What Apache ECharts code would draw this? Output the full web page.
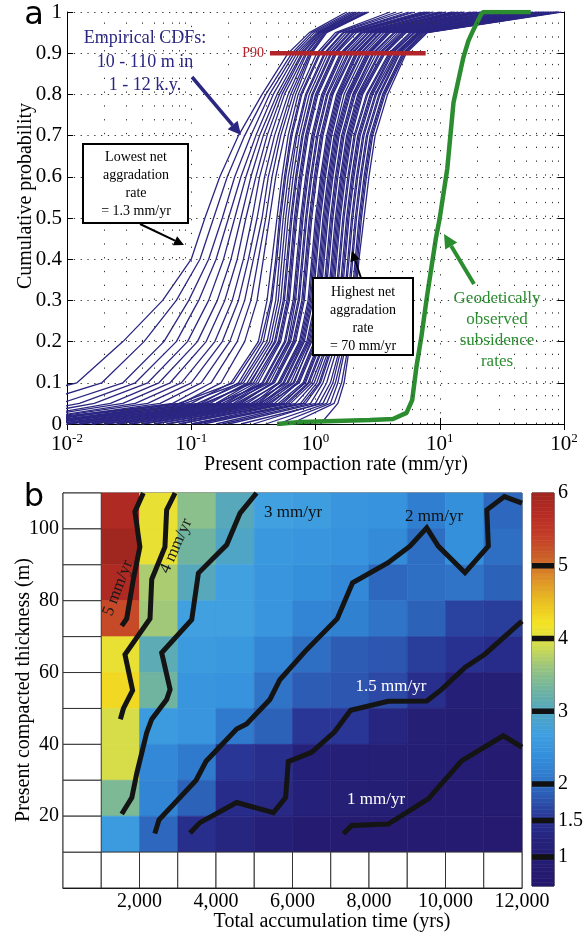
<!DOCTYPE html>
<html>
<head>
<meta charset="utf-8">
<script src="https://cdn.jsdelivr.net/npm/echarts@6/dist/echarts.min.js"></script>
<style>
html,body{margin:0;padding:0;background:#fff}
#chart{width:586px;height:933px}
</style>
</head>
<body>
<div id="chart"></div>
<script>
// ---------- panel a : empirical CDFs ----------
// probability levels at which each CDF was read
var probLevels = [0, 0.05, 0.1, 0.2, 0.3, 0.4, 0.5, 0.6, 0.7, 0.8, 0.9, 0.95, 1];
// log10(compaction rate, mm/yr) of each CDF at those levels, shallow ones first
var cdfLog = [
  [-3.2, -2.60, -1.92, -1.55, -1.23, -1.00, -0.89, -0.77, -0.62, -0.43, -0.22, -0.05, 0.25],
  [-3.0, -2.25, -1.72, -1.38, -1.12, -0.93, -0.82, -0.71, -0.57, -0.40, -0.19, -0.03, 0.28],
  [-2.9, -2.05, -1.55, -1.22, -1.02, -0.86, -0.75, -0.65, -0.52, -0.37, -0.17, -0.01, 0.30],
  [-2.8, -1.90, -1.45, -1.12, -0.94, -0.80, -0.70, -0.60, -0.48, -0.34, -0.15, 0.01, 0.32],
  [-2.7, -1.78, -1.35, -1.03, -0.86, -0.74, -0.65, -0.56, -0.45, -0.31, -0.13, 0.02, 0.33],
  [-2.6, -1.65, -1.26, -0.95, -0.79, -0.68, -0.60, -0.52, -0.42, -0.29, -0.11, 0.03, 0.35],
  [-2.6, -1.55, -1.17, -0.88, -0.73, -0.63, -0.56, -0.48, -0.39, -0.27, -0.10, 0.04, 0.36],
  [-2.5, -1.45, -1.08, -0.81, -0.67, -0.58, -0.51, -0.45, -0.36, -0.25, -0.08, 0.05, 0.38],
  [-2.5, -1.35, -1.00, -0.75, -0.62, -0.54, -0.47, -0.41, -0.33, -0.22, -0.07, 0.06, 0.40],
  [-2.4, -1.25, -0.92, -0.69, -0.57, -0.50, -0.43, -0.38, -0.30, -0.20, -0.05, 0.07, 0.41],
  [-2.4, -1.15, -0.84, -0.63, -0.52, -0.46, -0.40, -0.35, -0.28, -0.18, -0.04, 0.08, 0.42],
  [-2.3, -1.08, -0.76, -0.57, -0.47, -0.42, -0.37, -0.32, -0.25, -0.16, -0.03, 0.09, 0.43],
  [-2.3, -1.00, -0.68, -0.46, -0.39, -0.35, -0.31, -0.27, -0.22, -0.14, 0.01, 0.16, 0.60],
  [-2.6, -1.10, -0.66, -0.44, -0.36, -0.32, -0.29, -0.25, -0.20, -0.12, 0.03, 0.18, 0.65],
  [-2.2, -0.92, -0.62, -0.42, -0.35, -0.31, -0.28, -0.24, -0.19, -0.11, 0.04, 0.19, 0.70],
  [-2.5, -1.05, -0.60, -0.39, -0.32, -0.29, -0.26, -0.22, -0.16, -0.08, 0.07, 0.22, 0.75],
  [-2.2, -0.95, -0.58, -0.37, -0.30, -0.27, -0.24, -0.20, -0.15, -0.07, 0.08, 0.23, 0.78],
  [-2.1, -0.85, -0.55, -0.35, -0.28, -0.25, -0.22, -0.18, -0.13, -0.05, 0.10, 0.25, 0.80],
  [-2.3, -0.88, -0.53, -0.32, -0.25, -0.22, -0.19, -0.15, -0.10, -0.02, 0.13, 0.28, 0.88],
  [-2.0, -0.80, -0.52, -0.33, -0.26, -0.23, -0.20, -0.16, -0.11, -0.03, 0.12, 0.27, 0.85],
  [-2.0, -0.78, -0.48, -0.29, -0.22, -0.19, -0.16, -0.12, -0.07, 0.01, 0.16, 0.31, 0.92],
  [-2.4, -0.90, -0.50, -0.30, -0.23, -0.20, -0.17, -0.13, -0.08, 0.00, 0.15, 0.30, 0.90],
  [-1.9, -0.72, -0.46, -0.28, -0.21, -0.18, -0.15, -0.11, -0.06, 0.02, 0.17, 0.33, 0.95],
  [-2.0, -0.75, -0.43, -0.25, -0.18, -0.15, -0.12, -0.08, -0.03, 0.05, 0.20, 0.36, 1.00],
  [-2.1, -0.70, -0.42, -0.24, -0.17, -0.14, -0.11, -0.07, -0.02, 0.06, 0.21, 0.37, 1.02],
  [-1.8, -0.66, -0.40, -0.22, -0.16, -0.13, -0.10, -0.06, -0.01, 0.07, 0.22, 0.38, 1.05],
  [-2.2, -0.80, -0.39, -0.21, -0.14, -0.11, -0.08, -0.04, 0.01, 0.09, 0.24, 0.40, 1.10],
  [-1.9, -0.70, -0.37, -0.20, -0.13, -0.10, -0.07, -0.03, 0.02, 0.10, 0.26, 0.42, 1.12],
  [-1.7, -0.60, -0.35, -0.18, -0.11, -0.08, -0.05, -0.01, 0.04, 0.12, 0.27, 0.43, 1.15],
  [-1.8, -0.64, -0.34, -0.17, -0.10, -0.07, -0.04, 0.00, 0.05, 0.13, 0.29, 0.45, 1.18],
  [-1.9, -0.62, -0.33, -0.16, -0.09, -0.06, -0.03, 0.01, 0.06, 0.14, 0.30, 0.46, 1.20],
  [-1.6, -0.55, -0.30, -0.13, -0.06, -0.03, 0.00, 0.04, 0.09, 0.17, 0.32, 0.48, 1.25],
  [-1.6, -0.50, -0.29, -0.12, -0.05, -0.02, 0.01, 0.05, 0.10, 0.18, 0.33, 0.49, 1.28],
  [-1.8, -0.58, -0.28, -0.11, -0.04, -0.01, 0.02, 0.06, 0.11, 0.19, 0.34, 0.50, 1.30],
  [-1.7, -0.46, -0.26, -0.10, -0.03, 0.00, 0.03, 0.07, 0.12, 0.20, 0.36, 0.52, 1.33],
  [-1.5, -0.48, -0.25, -0.09, -0.02, 0.01, 0.04, 0.08, 0.13, 0.21, 0.37, 0.53, 1.35],
  [-1.7, -0.52, -0.23, -0.07, 0.00, 0.03, 0.06, 0.10, 0.15, 0.23, 0.39, 0.55, 1.40],
  [-1.5, -0.44, -0.22, -0.06, 0.01, 0.04, 0.07, 0.11, 0.16, 0.25, 0.41, 0.57, 1.42],
  [-1.4, -0.42, -0.20, -0.05, 0.02, 0.05, 0.08, 0.12, 0.17, 0.26, 0.42, 0.58, 1.45],
  [-1.4, -0.40, -0.17, -0.04, 0.03, 0.06, 0.09, 0.13, 0.18, 0.27, 0.43, 0.59, 1.48],
  [-1.6, -0.45, -0.18, -0.03, 0.04, 0.07, 0.10, 0.14, 0.19, 0.28, 0.44, 0.60, 1.50],
  [-1.3, -0.36, -0.15, -0.01, 0.06, 0.09, 0.12, 0.16, 0.21, 0.30, 0.46, 0.63, 1.55],
  [-1.4, -0.33, -0.14, 0.00, 0.07, 0.10, 0.13, 0.17, 0.22, 0.31, 0.47, 0.64, 1.58],
  [-1.5, -0.38, -0.13, 0.01, 0.08, 0.11, 0.14, 0.18, 0.23, 0.32, 0.49, 0.66, 1.60],
  [-1.2, -0.30, -0.10, 0.03, 0.10, 0.13, 0.16, 0.20, 0.25, 0.34, 0.51, 0.68, 1.65],
  [-1.1, -0.26, -0.09, 0.04, 0.11, 0.14, 0.17, 0.21, 0.26, 0.35, 0.52, 0.70, 1.68],
  [-1.3, -0.28, -0.08, 0.05, 0.12, 0.15, 0.18, 0.22, 0.27, 0.36, 0.54, 0.71, 1.70],
  [-1.1, -0.24, -0.06, 0.07, 0.13, 0.16, 0.19, 0.23, 0.28, 0.37, 0.55, 0.72, 1.71],
  [-1.0, -0.22, -0.05, 0.08, 0.14, 0.17, 0.20, 0.24, 0.29, 0.38, 0.56, 0.73, 1.72],
  [-1.2, -0.20, -0.03, 0.10, 0.16, 0.19, 0.22, 0.26, 0.31, 0.41, 0.59, 0.76, 1.75],
  [-0.95, -0.16, -0.01, 0.11, 0.17, 0.20, 0.23, 0.27, 0.32, 0.42, 0.60, 0.77, 1.78],
  [-0.9, -0.12, 0.01, 0.13, 0.19, 0.22, 0.25, 0.29, 0.34, 0.44, 0.61, 0.79, 1.80],
  [-0.8, -0.10, 0.03, 0.14, 0.20, 0.23, 0.26, 0.30, 0.35, 0.45, 0.62, 0.80, 1.82],
  [-1.0, -0.08, 0.04, 0.15, 0.21, 0.24, 0.27, 0.31, 0.36, 0.46, 0.64, 0.82, 1.84],
  [-0.75, -0.04, 0.06, 0.17, 0.23, 0.26, 0.29, 0.33, 0.38, 0.48, 0.65, 0.83, 1.86],
  [-0.7, 0.00, 0.09, 0.19, 0.24, 0.27, 0.30, 0.34, 0.39, 0.49, 0.66, 0.84, 1.88],
  [-0.5, 0.03, 0.12, 0.21, 0.26, 0.29, 0.32, 0.36, 0.41, 0.51, 0.67, 0.85, 1.90],
  [-0.6, 0.06, 0.14, 0.22, 0.27, 0.30, 0.33, 0.37, 0.42, 0.52, 0.68, 0.86, 1.92],
  [-0.4, 0.09, 0.16, 0.24, 0.29, 0.32, 0.35, 0.39, 0.44, 0.54, 0.70, 0.87, 1.94],
  [-0.3, 0.12, 0.18, 0.25, 0.30, 0.33, 0.36, 0.40, 0.45, 0.55, 0.71, 0.88, 1.95],
  [-0.2, 0.15, 0.21, 0.27, 0.31, 0.34, 0.37, 0.41, 0.46, 0.56, 0.72, 0.89, 1.96],
  [0.04, 0.18, 0.23, 0.28, 0.32, 0.35, 0.39, 0.43, 0.48, 0.58, 0.73, 0.90, 1.98]
];
// geodetic subsidence CDF
var geoRate = [0.49, 0.76, 2.75, 4.2, 5.4, 6.0, 6.5, 7.1, 7.9, 9.3, 10, 11.5, 12.9, 15.5, 17, 18.6, 21.4, 22.4, 54];
var geoProb = [0.0, 0.005, 0.01, 0.012, 0.027, 0.058, 0.14, 0.21, 0.31, 0.45, 0.5, 0.62, 0.78, 0.89, 0.93, 0.956, 0.993, 1.0, 1.0];
// P90 bar
var p90Rate = [0.43, 7.7];
var p90Prob = 0.9;

// ---------- panel b : P90 compaction rate grid ----------
var timeCenters = [1500, 2500, 3500, 4500, 5500, 6500, 7500, 8500, 9500, 10500, 11500];
var thickCenters = [105, 95, 85, 75, 65, 55, 45, 35, 25, 15];
var p90Grid = [
  [5.8, 4.1, 3.5, 3.05, 2.7, 2.65, 2.5, 2.45, 2.15, 2.4, 1.95],
  [6.0, 4.1, 3.3, 2.95, 2.55, 2.5, 2.45, 2.35, 2.0, 2.4, 2.0],
  [5.8, 3.7, 3.05, 2.7, 2.5, 2.4, 2.3, 1.95, 2.0, 2.05, 1.9],
  [5.3, 3.65, 2.7, 2.7, 2.5, 2.25, 2.2, 2.05, 1.9, 1.65, 1.6],
  [4.1, 3.1, 2.6, 2.55, 2.25, 2.0, 1.85, 1.8, 1.6, 1.5, 1.4],
  [4.3, 3.3, 2.5, 2.45, 2.05, 1.85, 1.8, 1.7, 1.45, 1.1, 1.05],
  [3.95, 2.6, 2.5, 2.1, 1.9, 1.55, 1.55, 1.3, 1.05, 1.0, 0.95],
  [3.95, 2.3, 2.1, 1.55, 1.45, 1.2, 1.1, 1.05, 1.0, 0.95, 0.85],
  [3.4, 2.25, 1.9, 1.4, 1.35, 1.15, 1.05, 1.0, 0.9, 0.9, 0.8],
  [2.6, 1.95, 1.45, 1.3, 1.1, 0.9, 0.9, 0.9, 0.85, 0.8, 0.75]
];
// contour lines [time, thickness]
var contour5 = [[2100,110],[1880,104.8],[2010,95],[1840,86],[1665,75],[1535,73]];
var contour4 = [[2930,110],[2710,105.3],[2665,95],[2320,86],[2275,75],[1620,65],[1820,55],[1580,50],[1500,47]];
var contour3 = [[5060,110],[4630,104.4],[4280,95.6],[3540,87.7],[3365,74.7],[2580,65.5],[2800,55.3],[2710,52.5],[2320,47],[2190,43.3],[1930,32],[1800,25.2],[1535,20.6]];
var contour2 = [[12000,107.2],[11540,109],[11080,105.3],[11120,95.2],[10510,87.8],[9810,95.2],[9510,100.3],[9070,95.2],[8500,90.6],[7570,85],[7170,75],[6330,65.9],[5670,58],[5410,52.5],[4800,45.7],[4540,44.3],[3740,35.3],[3480,30],[2510,19],[2400,15.2]];
var contour15 = [[12000,74.3],[11030,65.1],[10510,61.4],[9900,55.3],[9510,52.1],[8500,52],[7520,49.5],[7100,43.5],[6500,37.8],[5890,35.2],[5820,25.2],[5500,21],[4540,23.8],[3580,18.2],[3320,15.3]];
var contour1 = [[12000,39.2],[11510,42.4],[10420,35.4],[9550,24.8],[8500,17.8],[7550,17.4],[7330,15.1]];
var contourLevels = [1, 1.5, 2, 3, 4, 5];
var colorbarTicks = [1, 1.5, 2, 3, 4, 5, 6];

var SERIF = '"Liberation Serif", "DejaVu Serif", serif';
var NAVY = '#2b2682';
var GREEN = '#2c8c30';

var chart = echarts.init(document.getElementById('chart'));

// 画一个带箭头的线段
function arrow(x1, y1, x2, y2, color, width, head) {
  var a = Math.atan2(y2 - y1, x2 - x1);
  var bx = x2 - head * Math.cos(a), by = y2 - head * Math.sin(a);
  var hw = head * 0.5;
  return [
    {type: 'line', z: 100, shape: {x1: x1, y1: y1, x2: bx, y2: by}, style: {stroke: color, lineWidth: width}},
    {type: 'polygon', z: 100, shape: {points: [[x2, y2], [bx + hw * Math.sin(a), by - hw * Math.cos(a)], [bx - hw * Math.sin(a), by + hw * Math.cos(a)]]}, style: {fill: color}}
  ];
}
function label(x, y, text, size, color, opts) {
  opts = opts || {};
  return {
    type: 'text', z: 101, x: x, y: y, rotation: opts.rotation || 0,
    style: {
      text: text, font: (opts.font || (size + 'px ' + SERIF)), fill: color,
      align: opts.align || 'center', verticalAlign: 'middle',
      textAlign: opts.align || 'center', textVerticalAlign: 'middle',
      lineHeight: opts.lineHeight || size
    }
  };
}

// cell drawing for the grid (value axes)
function cellRender(w, h, white) {
  return function (params, api) {
    var x = api.value(0), y = api.value(1);
    var p0 = api.coord([x - w / 2, y + h / 2]);
    var p1 = api.coord([x + w / 2, y - h / 2]);
    var c = white ? '#fff' : api.visual('color');
    return {
      type: 'rect',
      shape: {x: p0[0], y: p0[1], width: p1[0] - p0[0], height: p1[1] - p0[1]},
      style: {fill: c, stroke: white ? '#333' : c, lineWidth: white ? 1 : 0.6}
    };
  };
}

var series = [];

// minor log grid (dotted)
var minorX = [];
[0.01, 0.1, 1, 10].forEach(function (d) {
  for (var k = 2; k <= 9; k++) minorX.push(+(d * k).toPrecision(3));
});
series.push({
  type: 'line', xAxisIndex: 0, yAxisIndex: 0, data: [[1, 0.5]], symbol: 'none',
  lineStyle: {opacity: 0}, silent: true,
  markLine: {
    silent: true, symbol: ['none', 'none'], label: {show: false},
    lineStyle: {color: '#333', width: 1, type: [1.3, 12.5]},
    data: minorX.map(function (v) { return {xAxis: v}; })
  }
});

// blue CDFs
cdfLog.forEach(function (row) {
  series.push({
    type: 'line', xAxisIndex: 0, yAxisIndex: 0, symbol: 'none', silent: true,
    lineStyle: {color: NAVY, width: 1.3},
    data: row.map(function (q, i) { return [Math.pow(10, q), probLevels[i]]; })
  });
});
// P90 bar
series.push({
  type: 'line', xAxisIndex: 0, yAxisIndex: 0, symbol: 'none', silent: true,
  lineStyle: {color: '#b3242a', width: 4.5},
  data: [[p90Rate[0], p90Prob], [p90Rate[1], p90Prob]]
});
// geodetic
series.push({
  type: 'line', xAxisIndex: 0, yAxisIndex: 0, symbol: 'none', silent: true,
  lineStyle: {color: GREEN, width: 4.5},
  data: geoRate.map(function (r, i) { return [r, geoProb[i]]; })
});

// panel b cells
var heatData = [];
p90Grid.forEach(function (row, r) {
  row.forEach(function (v, c) { heatData.push([timeCenters[c], thickCenters[r], v]); });
});
var heatIndex = series.length;
series.push({
  type: 'custom', xAxisIndex: 2, yAxisIndex: 2, renderItem: cellRender(1000, 10, false),
  data: heatData, silent: true, z: 2
});
// empty cells (no data) drawn white with edges
var emptyCells = [];
[5].concat(thickCenters).forEach(function (y) { emptyCells.push([500, y, 0]); });
timeCenters.forEach(function (x) { emptyCells.push([x, 5, 0]); });
series.push({
  type: 'custom', xAxisIndex: 2, yAxisIndex: 2, renderItem: cellRender(1000, 10, true),
  data: emptyCells, silent: true, z: 2
});
// contours
[contour5, contour4, contour3, contour2, contour15, contour1].forEach(function (c) {
  series.push({
    type: 'line', xAxisIndex: 2, yAxisIndex: 2, symbol: 'none', silent: true, z: 5,
    lineStyle: {color: '#141414', width: 5, join: 'miter'},
    data: c
  });
});

// colorbar stripes
var cbMin = 0.6, cbMax = 6, cbStep = 0.05;
var stripes = [];
for (var v = cbMin; v < cbMax - 1e-9; v += cbStep) stripes.push([0.5, v + cbStep / 2, v + cbStep / 2]);
var barIndex = series.length;
series.push({
  type: 'custom', xAxisIndex: 3, yAxisIndex: 3, renderItem: cellRender(1, cbStep, false),
  data: stripes, silent: true, z: 2
});
// contour levels marked across the colorbar
contourLevels.forEach(function (l) {
  series.push({
    type: 'line', xAxisIndex: 3, yAxisIndex: 3, symbol: 'none', silent: true, z: 6,
    lineStyle: {color: '#111', width: 5.5},
    data: [[0, l], [1, l]]
  });
});

var cmap = ['#24186c', '#251c72', '#25217a', '#283090', '#2c56b0', '#2f7acc', '#3590dc', '#40a0e0',
            '#52a6c0', '#70b4a0', '#98c480', '#d0dc50', '#f4e424', '#eac020', '#de9428', '#cc6228',
            '#c43e28', '#b62c24', '#a02620'];

var graphic = [];
graphic.push(label(34, 16, 'a', 32, '#000', {font: '32px "DejaVu Sans", sans-serif'}));
graphic.push(label(34, 498, 'b', 32, '#000', {font: '32px "DejaVu Sans", sans-serif'}));
graphic.push(label(26, 196, 'Cumulative probability', 20, '#000', {rotation: Math.PI / 2}));
graphic.push(label(336, 465, 'Present compaction rate (mm/yr)', 20, '#000'));
graphic.push(label(24, 690, 'Present compacted thickness (m)', 20, '#000', {rotation: Math.PI / 2}));
graphic.push(label(332, 922, 'Total accumulation time (yrs)', 20, '#000'));
// annotations panel a
graphic.push(label(145, 62, 'Empirical CDFs:\n10 - 110 m in\n1 - 12 k.y.', 18, NAVY, {lineHeight: 23.5}));
graphic = graphic.concat(arrow(192, 77, 241, 135, NAVY, 3.5, 13));
graphic.push(label(264, 53, 'P90', 14, '#b3242a', {align: 'right', font: '14px ' + SERIF}));
graphic = graphic.concat(arrow(140, 224, 184, 245, '#000', 2, 10));
graphic.push({type: 'rect', z: 100, shape: {x: 83, y: 144, width: 105, height: 79}, style: {fill: '#fff', stroke: '#000', lineWidth: 2}});
graphic.push(label(136, 184.5, 'Lowest net\naggradation\nrate\n= 1.3 mm/yr', 14, '#000', {lineHeight: 17.8}));
graphic = graphic.concat(arrow(361, 278, 352, 251, '#000', 2, 10));
graphic.push({type: 'rect', z: 100, shape: {x: 313, y: 278, width: 100, height: 77}, style: {fill: '#fff', stroke: '#000', lineWidth: 2}});
graphic.push(label(363, 319, 'Highest net\naggradation\nrate\n= 70 mm/yr', 14, '#000', {lineHeight: 18}));
graphic = graphic.concat(arrow(474, 284, 444, 234, GREEN, 4, 14));
graphic.push(label(497, 330, 'Geodetically\nobserved\nsubsidence\nrates', 17, GREEN, {lineHeight: 21.3}));
// contour labels panel b
graphic.push(label(118, 588, '5 mm/yr', 17, '#1a1a1a', {rotation: 69 * Math.PI / 180}));
graphic.push(label(176, 546, '4 mm/yr', 17, '#1a1a1a', {rotation: 66 * Math.PI / 180}));
graphic.push(label(293, 513, '3 mm/yr', 17, '#111'));
graphic.push(label(434, 517, '2 mm/yr', 17, '#111'));
graphic.push(label(391, 687, '1.5 mm/yr', 17, '#fff'));
graphic.push(label(376, 800, '1 mm/yr', 17, '#fff'));

var tickFont = {fontFamily: SERIF, fontSize: 20, color: '#000'};

var option = {
  animation: false,
  backgroundColor: '#fff',
  textStyle: {fontFamily: SERIF},
  grid: [
    {left: 67, top: 12, width: 497, height: 412, show: false},
    {left: 63, top: 493, width: 459, height: 395, show: true, borderColor: '#333', borderWidth: 1},
    {left: 532, top: 493, width: 26, height: 393, show: true, borderColor: '#111', borderWidth: 1}
  ],
  xAxis: [
    {gridIndex: 0, type: 'log', logBase: 10, min: 0.01, max: 100, position: 'bottom',
     axisLine: {lineStyle: {color: '#000', width: 1}},
     axisTick: {inside: true, length: 6, lineStyle: {color: '#000'}},
     axisLabel: {margin: 8, formatter: function (v) {
        var e = Math.round(Math.log10(v));
        return '{b|10}{s|' + e + '}';
      },
      rich: {b: {fontFamily: SERIF, fontSize: 21, lineHeight: 24, color: '#000'},
             s: {fontFamily: SERIF, fontSize: 13, lineHeight: 14, verticalAlign: 'top', color: '#000'}}},
     splitLine: {show: true, lineStyle: {color: '#333', width: 1, type: [1.3, 12.5]}}},
    {gridIndex: 0, type: 'log', logBase: 10, min: 0.01, max: 100, position: 'top',
     axisLine: {lineStyle: {color: '#000', width: 1}},
     axisTick: {inside: true, length: 6, lineStyle: {color: '#000'}},
     axisLabel: {show: false}, splitLine: {show: false}},
    {gridIndex: 1, type: 'value', min: 0, max: 12000, interval: 2000,
     axisLine: {lineStyle: {color: '#000'}}, axisTick: {show: false},
     axisLabel: Object.assign({margin: 4, formatter: function (v) {
        return v === 0 ? '' : v.toLocaleString('en-US');
      }}, tickFont),
     splitLine: {show: false}},
    {gridIndex: 2, type: 'value', min: 0, max: 1, show: false}
  ],
  yAxis: [
    {gridIndex: 0, type: 'value', min: 0, max: 1, interval: 0.1,
     axisLine: {show: true, lineStyle: {color: '#000', width: 1}},
     axisTick: {show: true, inside: true, length: 6, lineStyle: {color: '#000'}},
     axisLabel: Object.assign({margin: 5, fontSize: 21, formatter: function (v) { return String(+v.toFixed(1)); }},
       {fontFamily: SERIF, color: '#000'}),
     splitLine: {show: true, lineStyle: {color: '#333', width: 1, type: [1.3, 5.5]}}},
    {gridIndex: 0, type: 'value', min: 0, max: 1, interval: 0.1, position: 'right',
     axisLine: {show: true, lineStyle: {color: '#000', width: 1}},
     axisTick: {show: true, inside: true, length: 6, lineStyle: {color: '#000'}},
     axisLabel: {show: false}, splitLine: {show: false}},
    {gridIndex: 1, type: 'value', min: 0, max: 110, interval: 20,
     axisLine: {show: true, lineStyle: {color: '#000'}}, axisTick: {show: false},
     axisLabel: Object.assign({margin: 4, formatter: function (v) {
        return (v === 0 || v > 100) ? '' : String(v);
      }}, tickFont),
     splitLine: {show: false}},
    {gridIndex: 2, type: 'value', min: cbMin, max: cbMax, position: 'right',
     axisLine: {show: false}, axisTick: {show: false}, splitLine: {show: false},
     axisLabel: Object.assign({margin: 4, customValues: colorbarTicks, formatter: function (v) { return String(v); }}, tickFont)}
  ],
  visualMap: {
    type: 'continuous', show: false, min: cbMin, max: cbMax, dimension: 2,
    seriesIndex: [heatIndex, barIndex], inRange: {color: cmap}
  },
  graphic: graphic,
  series: series
};
chart.setOption(option);
</script>
</body>
</html>
